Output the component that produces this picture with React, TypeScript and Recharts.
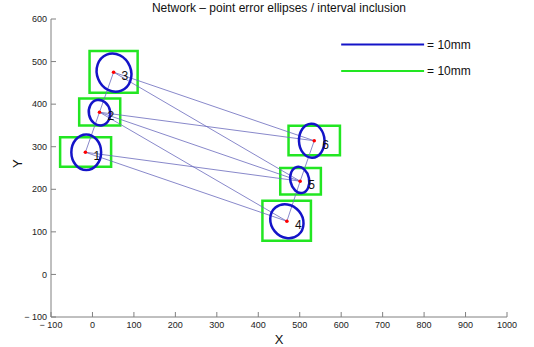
import React from 'react';
import { ScatterChart, Scatter, XAxis, YAxis, ReferenceArea, ReferenceLine } from 'recharts';

const W = 534;
const H = 347;
const MARGIN = { top: 19, right: 27, bottom: 0, left: 0 };
const Y_AXIS_W = 51;
const X_AXIS_H = 30;
const FONT = '"Liberation Sans", Arial, Helvetica, sans-serif';

const xDomain: [number, number] = [-100, 1000];
const yDomain: [number, number] = [-100, 600];
const xTicks = [-100, 0, 100, 200, 300, 400, 500, 600, 700, 800, 900, 1000];
const yTicks = [-100, 0, 100, 200, 300, 400, 500, 600];

// pixels per data unit, so ellipse semi-axes (data units) can be drawn
const PX_X = (W - MARGIN.left - MARGIN.right - Y_AXIS_W) / (xDomain[1] - xDomain[0]);
const PX_Y = (H - MARGIN.top - MARGIN.bottom - X_AXIS_H) / (yDomain[1] - yDomain[0]);

// network points
const pointNames = ['1', '2', '3', '4', '5', '6'];
const pointX = [-17, 17, 51, 469, 501, 535];
const pointY = [287, 381, 475, 125, 219, 314];

// error ellipses: centre, semi-axes, orientation of major axis (deg)
const ellipseX = [-15, 17, 52, 469, 500, 529];
const ellipseY = [287, 380, 474, 125, 222, 314];
const ellipseMajor = [43, 31, 47, 43, 32, 41];
const ellipseMinor = [35, 25, 40, 37, 22, 30];
const ellipseAngle = [90, 102, 112, 130, 102, 92];

// interval inclusion boxes
const boxX1 = [-78, -32, -7, 410, 453, 473];
const boxX2 = [45, 67, 109, 527, 551, 597];
const boxY1 = [253, 350, 427, 79, 188, 280];
const boxY2 = [322, 413, 525, 173, 250, 349];

// observations between points (1-based)
const edges: [number, number][] = [
  [1, 2], [2, 3], [4, 5], [5, 6],
  [3, 6], [3, 5], [2, 6], [2, 5], [2, 4], [1, 5], [1, 4],
];

// scale bars
const scaleX1 = 600;
const scaleX2 = 800;
const scaleY = [540, 478];
const scaleLabels = ['= 10mm', '= 10mm'];

const ELLIPSE_BLUE = '#1414c8';
const BOX_GREEN = '#22e622';
const LINE_BLUE = '#6a6abc';
const AXIS_GREY = '#808080';

const points = pointNames.map((name, i) => ({ name, x: pointX[i], y: pointY[i] }));
const ellipses = ellipseX.map((x, i) => ({
  x,
  y: ellipseY[i],
  a: ellipseMajor[i],
  b: ellipseMinor[i],
  angle: ellipseAngle[i],
}));

const EllipseShape = (props: any) => {
  const { cx, cy, payload } = props;
  if (cx == null || cy == null) return null;
  return (
    <ellipse
      cx={cx}
      cy={cy}
      rx={payload.a * PX_X}
      ry={payload.b * PX_Y}
      transform={`rotate(${-payload.angle} ${cx} ${cy})`}
      fill="none"
      stroke={ELLIPSE_BLUE}
      strokeWidth={2.5}
    />
  );
};

const PointShape = (props: any) => {
  const { cx, cy, payload } = props;
  if (cx == null || cy == null) return null;
  return (
    <g>
      <circle cx={cx} cy={cy} r={1.8} fill="#ff0000" />
      <text x={cx + 8} y={cy + 5} fontSize={12} fontFamily={FONT} fill="#111" dominantBaseline="middle">
        {payload.name}
      </text>
    </g>
  );
};

const fmt = (v: number) => (v < 0 ? `\u2212 ${-v}` : `${v}`);

export default function App() {
  return (
    <div style={{ position: 'relative', width: W, height: H, background: '#fff' }}>
      <style>{'body{margin:0}'}</style>
      <div
        style={{
          position: 'absolute',
          left: MARGIN.left + Y_AXIS_W,
          width: W - MARGIN.left - MARGIN.right - Y_AXIS_W,
          top: 1,
          textAlign: 'center',
          fontFamily: FONT,
          fontSize: 12,
          color: '#111',
          lineHeight: '15px',
        }}
      >
        Network – point error ellipses / interval inclusion
      </div>
      <ScatterChart width={W} height={H} margin={MARGIN}>
        <XAxis
          xAxisId={0}
          type="number"
          dataKey="x"
          domain={xDomain}
          ticks={xTicks}
          allowDataOverflow
          height={X_AXIS_H}
          tickSize={-5}
          tickMargin={10}
          tickFormatter={fmt}
          tick={{ fontSize: 9, fill: '#222', fontFamily: FONT }}
          axisLine={{ stroke: AXIS_GREY }}
          tickLine={{ stroke: AXIS_GREY }}
          label={{ value: 'X', position: 'insideBottom', offset: 3, fontSize: 13, fill: '#111', fontFamily: FONT }}
        />
        <XAxis
          xAxisId="top"
          orientation="top"
          type="number"
          domain={xDomain}
          ticks={xTicks}
          allowDataOverflow
          height={0}
          tickSize={-5}
          tick={false}
          axisLine={{ stroke: AXIS_GREY }}
          tickLine={{ stroke: AXIS_GREY }}
        />
        <YAxis
          yAxisId={0}
          type="number"
          dataKey="y"
          domain={yDomain}
          ticks={yTicks}
          allowDataOverflow
          width={Y_AXIS_W}
          tickSize={-5}
          tickMargin={9}
          tickFormatter={fmt}
          tick={{ fontSize: 9, fill: '#222', fontFamily: FONT }}
          axisLine={{ stroke: AXIS_GREY }}
          tickLine={{ stroke: AXIS_GREY }}
          label={{ value: 'Y', angle: -90, position: 'insideLeft', offset: 17, fontSize: 13, fill: '#111', fontFamily: FONT }}
        />
        <YAxis
          yAxisId="right"
          orientation="right"
          type="number"
          domain={yDomain}
          ticks={yTicks}
          allowDataOverflow
          width={0}
          tickSize={-5}
          tick={false}
          axisLine={{ stroke: AXIS_GREY }}
          tickLine={{ stroke: AXIS_GREY }}
        />

        {edges.map(([from, to], i) => (
          <ReferenceLine
            key={`e${i}`}
            segment={[
              { x: pointX[from - 1], y: pointY[from - 1] },
              { x: pointX[to - 1], y: pointY[to - 1] },
            ]}
            stroke={LINE_BLUE}
            strokeWidth={0.8}
          />
        ))}

        {boxX1.map((x1, i) => (
          <ReferenceArea
            key={`b${i}`}
            x1={x1}
            x2={boxX2[i]}
            y1={boxY1[i]}
            y2={boxY2[i]}
            fill="none"
            fillOpacity={0}
            stroke={BOX_GREEN}
            strokeWidth={2.5}
          />
        ))}

        {scaleY.map((y, i) => (
          <ReferenceLine
            key={`s${i}`}
            segment={[
              { x: scaleX1, y },
              { x: scaleX2, y },
            ]}
            stroke={i === 0 ? ELLIPSE_BLUE : BOX_GREEN}
            strokeWidth={2}
            label={{ value: scaleLabels[i], position: 'right', offset: 3, fontSize: 12, fill: '#111', fontFamily: FONT }}
          />
        ))}

        <Scatter data={ellipses} shape={<EllipseShape />} isAnimationActive={false} />
        <Scatter data={points} shape={<PointShape />} isAnimationActive={false} />
      </ScatterChart>
    </div>
  );
}
